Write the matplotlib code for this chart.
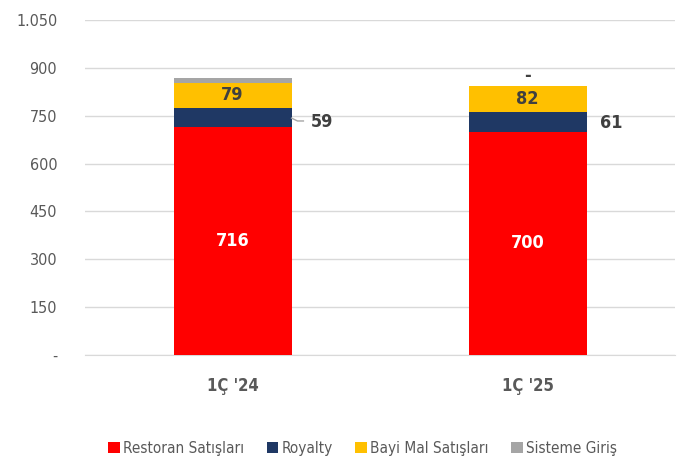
import numpy as np
import matplotlib.pyplot as plt
from matplotlib import font_manager

# Daten
kategorien = ["1Ç '24", "1Ç '25"]
restoran = [716, 700]
royalty = [59, 61]
bayi_mal = [79, 82]
sisteme_giris = [14, 0]

serien = ['Restoran Satışları', 'Royalty', 'Bayi Mal Satışları', 'Sisteme Giriş']
farben = ['#FF0000', '#1F3864', '#FFC000', '#A5A5A5']
yticks = [0, 150, 300, 450, 600, 750, 900, 1050]
ytick_labels = ['-', '150', '300', '450', '600', '750', '900', '1.050']

# schmale Schrift (DejaVu Sans Condensed), falls vorhanden
kondensiert = [f for f in font_manager.fontManager.ttflist
               if f.name == 'DejaVu Sans' and f.stretch == 'condensed']
plt.rcParams['font.family'] = ['DejaVu Sans']
if kondensiert:
    plt.rcParams['font.stretch'] = 'condensed'

grau = '#595959'
dunkel = '#404040'

fig = plt.figure(figsize=(6.8, 4.62), dpi=100)
ax = fig.add_axes([0.125, 0.2316, 0.868, 0.7251])

x = np.arange(len(kategorien))
breite = 0.4
unten = np.zeros(len(kategorien))
for werte, name, farbe in zip([restoran, royalty, bayi_mal, sisteme_giris], serien, farben):
    ax.bar(x, werte, breite, bottom=unten, color=farbe, label=name, zorder=3)
    unten += np.array(werte)

# Beschriftungen
for i in range(len(kategorien)):
    ax.text(x[i], restoran[i] / 2, str(restoran[i]), ha='center', va='center',
            color='white', fontsize=13, fontweight='bold', zorder=4)
    y_bayi = restoran[i] + royalty[i] + bayi_mal[i] / 2
    ax.text(x[i], y_bayi, str(bayi_mal[i]), ha='center', va='center',
            color=dunkel, fontsize=13, fontweight='bold', zorder=4)

# Royalty-Werte rechts neben den Balken
y_roy0 = restoran[0] + royalty[0] / 2
ax.plot([x[0] + breite / 2, x[0] + breite / 2 + 0.02, x[0] + breite / 2 + 0.04],
        [y_roy0 - 3, y_roy0 - 12, y_roy0 - 12], color='#A5A5A5', lw=1, zorder=4)
ax.text(x[0] + breite / 2 + 0.065, y_roy0 - 15, str(royalty[0]), ha='left', va='center',
        color=dunkel, fontsize=13, fontweight='bold')
y_roy1 = restoran[1] + royalty[1] / 2
ax.text(x[1] + breite / 2 + 0.045, y_roy1 - 3, str(royalty[1]), ha='left', va='center',
        color=dunkel, fontsize=13, fontweight='bold')

# Sisteme Giriş = 0 -> "-"
ax.text(x[1], unten[1] + 32, '-', ha='center', va='center',
        color=dunkel, fontsize=13, fontweight='bold')

ax.set_xlim(-0.5, 1.5)
ax.set_ylim(0, 1050)
ax.set_yticks(yticks)
ax.set_yticklabels(ytick_labels)
ax.set_xticks(x)
ax.set_xticklabels(kategorien, fontweight='bold')
ax.tick_params(axis='y', length=0, pad=20, labelsize=11.5, labelcolor=grau)
ax.tick_params(axis='x', length=0, pad=16, labelsize=12, labelcolor=grau)
ax.grid(axis='y', color='#D9D9D9', lw=1, zorder=0)
for s in ['top', 'right', 'left']:
    ax.spines[s].set_visible(False)
ax.spines['bottom'].set_color('#D9D9D9')

ax.legend(loc='upper center', bbox_to_anchor=(0.47, -0.215), ncol=4, frameon=False,
          fontsize=11, handlelength=0.75, handleheight=0.75, handletextpad=0.2,
          columnspacing=1.5, labelcolor=grau)

fig.savefig('out.png', dpi=100)
